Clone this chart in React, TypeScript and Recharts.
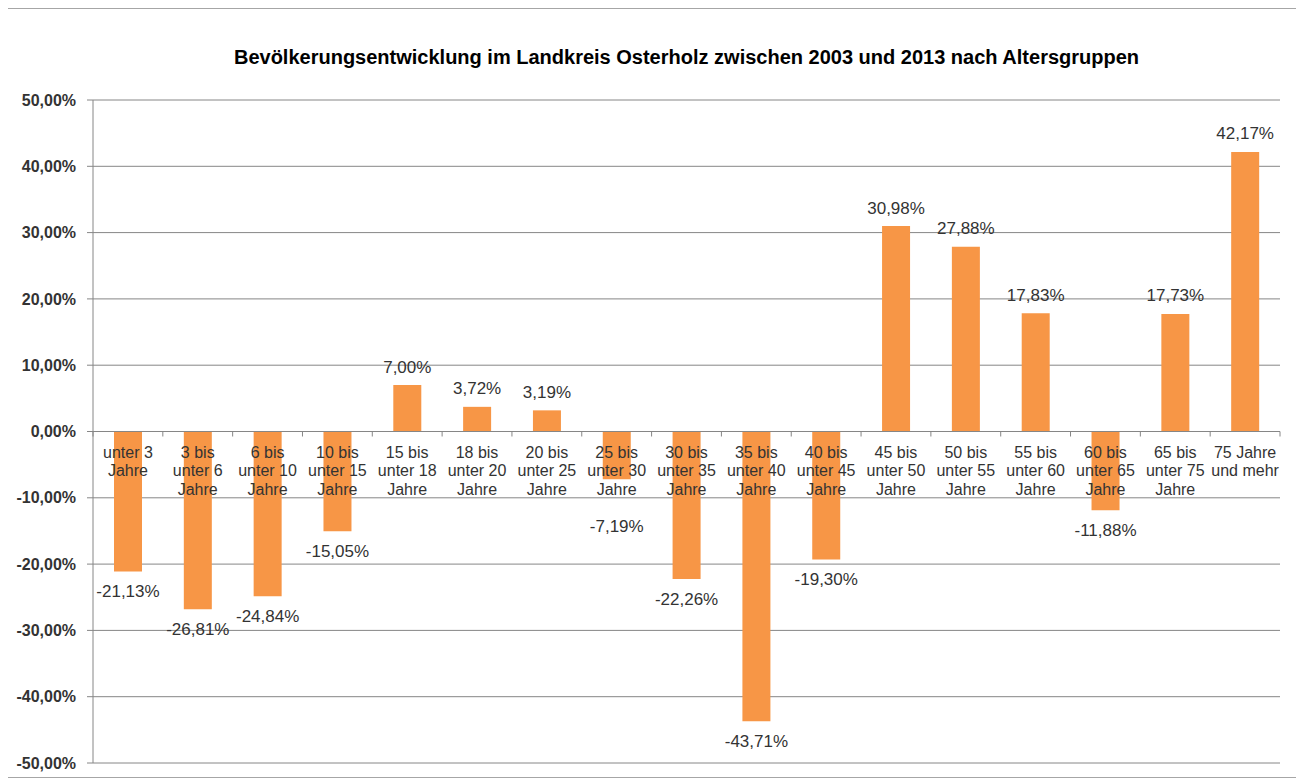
import { BarChart, Bar, XAxis, YAxis, CartesianGrid, ReferenceLine, LabelList } from "recharts";

const CATEGORIES = [
  "unter 3 Jahre",
  "3 bis unter 6 Jahre",
  "6 bis unter 10 Jahre",
  "10 bis unter 15 Jahre",
  "15 bis unter 18 Jahre",
  "18 bis unter 20 Jahre",
  "20 bis unter 25 Jahre",
  "25 bis unter 30 Jahre",
  "30 bis unter 35 Jahre",
  "35 bis unter 40 Jahre",
  "40 bis unter 45 Jahre",
  "45 bis unter 50 Jahre",
  "50 bis unter 55 Jahre",
  "55 bis unter 60 Jahre",
  "60 bis unter 65 Jahre",
  "65 bis unter 75 Jahre",
  "75 Jahre und mehr",
];

const CHANGE_PCT = [
  -21.13, -26.81, -24.84, -15.05, 7.0, 3.72, 3.19, -7.19, -22.26,
  -43.71, -19.3, 30.98, 27.88, 17.83, -11.88, 17.73, 42.17,
];

const Y_TICKS = [-50, -40, -30, -20, -10, 0, 10, 20, 30, 40, 50];

const TITLE = "Bevölkerungsentwicklung im Landkreis Osterholz zwischen 2003 und 2013 nach Altersgruppen";

const data = CATEGORIES.map((name, i) => ({ name, value: CHANGE_PCT[i] }));

// layout
const W = 1288;
const H = 768;
const X_AXIS_H = 1;
const MARGIN = { top: 91, right: 16, bottom: 13, left: 0 };
const Y_AXIS_W = 85;
const PLOT_W = W - MARGIN.left - MARGIN.right - Y_AXIS_W;
const PLOT_H = H - MARGIN.top - MARGIN.bottom - X_AXIS_H;
const BAND = PLOT_W / CATEGORIES.length;
const ZERO_Y = MARGIN.top + PLOT_H / 2;
const CAT_LINE_H = 18.5;
// lowest a value label may sit under the zero line so it clears the category text
const CAT_BLOCK_CLEAR = 95;

const FONT = "Arial, 'Liberation Sans', sans-serif";
const GRID = "#868686";
const TEXT = "#333333";
const ORANGE = "#F79646";

const fmtPct = (v: number) => `${v.toFixed(2).replace(".", ",")}%`;

// crude word wrap, excel breaks these at roughly 8 chars per line
function wrap(label: string, maxChars = 8): string[] {
  const lines: string[] = [];
  let cur = "";
  for (const w of label.split(" ")) {
    const next = cur ? `${cur} ${w}` : w;
    if (next.length > maxChars && cur) {
      lines.push(cur);
      cur = w;
    } else {
      cur = next;
    }
  }
  if (cur) lines.push(cur);
  return lines;
}

// category axis sits on the zero line, not at the bottom
function CategoryTick(props: any) {
  const { x, payload, index } = props;
  const lines = wrap(String(payload.value));
  const isLast = index === CATEGORIES.length - 1;
  return (
    <g>
      <line x1={x - BAND / 2} x2={x - BAND / 2} y1={ZERO_Y} y2={ZERO_Y + 5} stroke={GRID} />
      {isLast && <line x1={x + BAND / 2} x2={x + BAND / 2} y1={ZERO_Y} y2={ZERO_Y + 5} stroke={GRID} />}
      <text x={x} y={ZERO_Y + 26} textAnchor="middle" fontSize={16} fontFamily={FONT} fill={TEXT}>
        {lines.map((l, i) => (
          <tspan key={i} x={x} dy={i === 0 ? 0 : CAT_LINE_H}>{l}</tspan>
        ))}
      </text>
    </g>
  );
}

function ValueLabel(props: any) {
  const { x, y, width, height, value } = props;
  const v = Number(value);
  const top = Math.min(y, y + height);
  const bottom = Math.max(y, y + height);
  const ty = v >= 0 ? top - 18 : Math.max(bottom + 20, ZERO_Y + CAT_BLOCK_CLEAR);
  return (
    <text x={x + width / 2} y={ty} textAnchor="middle" dominantBaseline="central"
      fontSize={17} fontFamily={FONT} fill={TEXT}>
      {fmtPct(v)}
    </text>
  );
}

export default function App() {
  return (
    <div style={{ position: "relative", width: W, height: H, border: "1px solid #a6a6a6", marginLeft: -1, background: "#fff" }}>
      <div style={{
        position: "absolute", top: 37, left: MARGIN.left + Y_AXIS_W, width: PLOT_W,
        textAlign: "center", fontFamily: FONT, fontWeight: "bold", fontSize: 20, lineHeight: "22px", color: "#000",
      }}>
        {TITLE}
      </div>
      <BarChart width={W} height={H} data={data} margin={MARGIN} barCategoryGap={0}>
        <CartesianGrid vertical={false} stroke={GRID} />
        <YAxis
          type="number" domain={[-50, 50]} ticks={Y_TICKS} width={Y_AXIS_W}
          tickFormatter={fmtPct} interval={0}
          axisLine={{ stroke: GRID }} tickLine={{ stroke: GRID }} tickSize={6} tickMargin={11}
          tick={{ fontSize: 16, fontWeight: "bold", fontFamily: FONT, fill: TEXT }}
        />
        <Bar dataKey="value" fill={ORANGE} barSize={28} isAnimationActive={false}>
          <LabelList dataKey="value" content={<ValueLabel />} />
        </Bar>
        <ReferenceLine y={0} stroke={GRID} />
        <XAxis dataKey="name" type="category" height={X_AXIS_H} interval={0}
          axisLine={false} tickLine={false} tick={<CategoryTick />} />
      </BarChart>
    </div>
  );
}
